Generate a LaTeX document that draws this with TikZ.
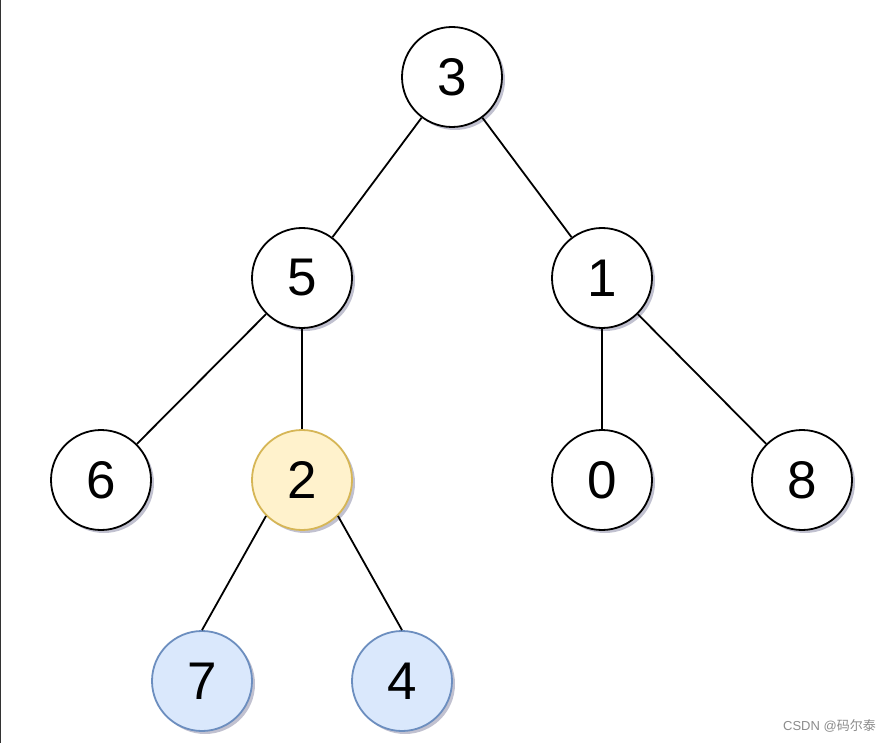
\documentclass[tikz,border=0pt]{standalone}
\usepackage{fontspec}
\setmainfont{Liberation Sans}
\newfontfamily\cjk{Noto Sans CJK SC}
\usetikzlibrary{shadows}
\definecolor{yfill}{HTML}{FFF2CC}
\definecolor{ydraw}{HTML}{D6B656}
\definecolor{bfill}{HTML}{DAE8FC}
\definecolor{bdraw}{HTML}{6C8EBF}
\definecolor{shadowc}{HTML}{50507A}
\begin{document}
\begin{tikzpicture}[x=1pt,y=-1pt,
  tnode/.style={circle,draw=black,fill=white,line width=1.8pt,minimum size=100pt,inner sep=0pt,
    font=\fontsize{53}{53}\selectfont,
    drop shadow={shadow xshift=3pt,shadow yshift=-3pt,fill=shadowc,opacity=0.35}},
  ynode/.style={tnode,draw=ydraw,fill=yfill},
  bnode/.style={tnode,draw=bdraw,fill=bfill},
  edge/.style={line width=1.8pt,black}]
\useasboundingbox (0,0) rectangle (892,743);
\fill[white] (0,0) rectangle (892,743);
\draw[line width=1.2pt,color=black!80] (0.6,0) -- (0.6,743);
\node[tnode] (n3) at (452,77) {3};
\node[tnode] (n5) at (302,278) {5};
\node[tnode] (n1) at (602,278) {1};
\node[tnode] (n6) at (101,480) {6};
\node[ynode] (n2) at (302,480) {2};
\node[tnode] (n0) at (602,480) {0};
\node[tnode] (n8) at (802,480) {8};
\node[bnode] (n7) at (202,681) {7};
\node[bnode] (n4) at (402,681) {4};
\draw[edge] (n3) -- (n5);
\draw[edge] (n3) -- (n1);
\draw[edge] (n5) -- (n6);
\draw[edge] (n5) -- (n2);
\draw[edge] (n1) -- (n0);
\draw[edge] (n1) -- (n8);
\draw[edge] (n2.south west) -- (n7.north);
\draw[edge] (n2.south east) -- (n4.north);
\node[anchor=east,text=black!45,font=\fontsize{13}{13}\selectfont,inner sep=0pt] (wm) at (876,726) {CSDN @{\cjk 码尔泰}};
\end{tikzpicture}
\end{document}
